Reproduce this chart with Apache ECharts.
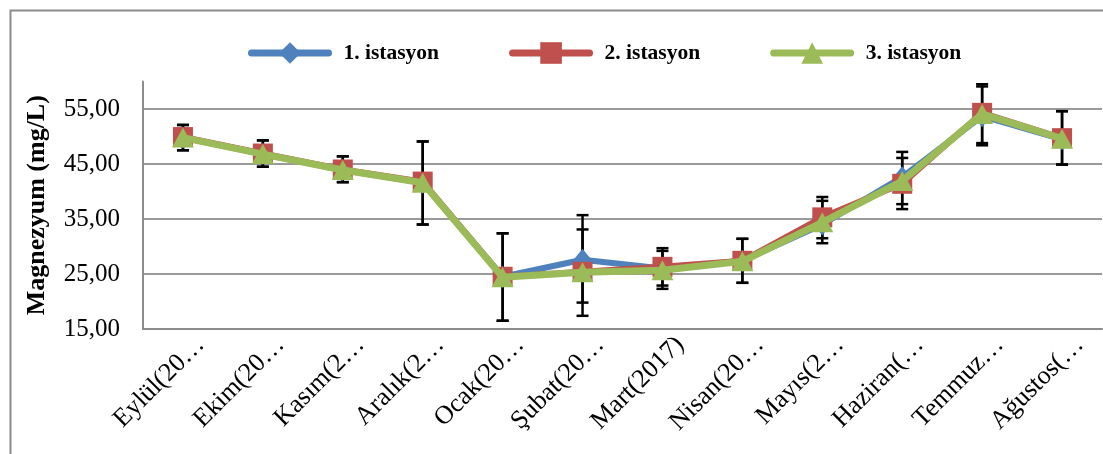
<!DOCTYPE html>
<html>
<head>
<meta charset="utf-8">
<script src="https://cdn.jsdelivr.net/npm/echarts@6/dist/echarts.min.js"></script>
<style>html,body{margin:0;padding:0;background:#fff;}#c{width:1103px;height:454px;}</style>
</head>
<body>
<div id="c"></div>
<script>
const categories = ['Eylül(20…', 'Ekim(20…', 'Kasım(2…', 'Aralık(2…', 'Ocak(20…', 'Şubat(20…', 'Mart(2017)', 'Nisan(20…', 'Mayıs(2…', 'Haziran(…', 'Temmuz…', 'Ağustos(…'];
const seriesNames = ['1. istasyon', '2. istasyon', '3. istasyon'];
const station1 = [49.8, 46.8, 43.9, 41.6, 24.5, 27.6, 26.0, 27.4, 34.0, 42.6, 53.7, 49.5];
const station2 = [49.9, 46.9, 44.0, 41.8, 24.5, 25.4, 26.3, 27.4, 35.3, 41.4, 54.3, 49.7];
const station3 = [49.8, 46.8, 43.9, 41.6, 24.4, 25.3, 25.7, 27.3, 34.4, 41.9, 54.1, 49.6];
const errLow1  = [47.5, 44.5, 41.7, 34.0, 16.5, 17.4, 22.3, 23.4, 30.6, 36.8, 48.4, 44.9];
const errHigh1 = [52.1, 49.3, 46.4, 49.1, 32.4, 35.7, 29.7, 31.4, 39.0, 47.2, 59.5, 54.6];
const errLow2  = [47.5, 44.5, 41.7, 34.0, 16.5, 19.8, 22.9, 23.4, 31.5, 37.7, 48.8, 44.9];
const errHigh2 = [52.1, 49.3, 46.4, 49.1, 32.4, 33.1, 29.2, 31.4, 38.3, 46.1, 59.1, 54.6];
const yTicks = {min: 15, max: 60, interval: 10};

const colors = ['#4F81BD', '#C0504D', '#9BBB59'];
const symbols = ['diamond', 'rect', 'triangle'];
const symbolSizes = [[18, 22], 20, [22, 20]];
const lineWidths = [6, 6, 7];
const font = 'Liberation Serif, Times New Roman, serif';

function errData(lo, hi) { return categories.map((c, i) => [i, lo[i], hi[i]]); }
function errRender(params, api) {
  const x = api.value(0);
  const lo = api.coord([x, api.value(1)]);
  const hi = api.coord([x, api.value(2)]);
  const cw = 6;
  const style = {stroke: '#000', lineWidth: 2.5};
  return {type: 'group', children: [
    {type: 'line', shape: {x1: lo[0], y1: lo[1], x2: hi[0], y2: hi[1]}, style: style},
    {type: 'line', shape: {x1: lo[0] - cw, y1: lo[1], x2: lo[0] + cw, y2: lo[1]}, style: style},
    {type: 'line', shape: {x1: hi[0] - cw, y1: hi[1], x2: hi[0] + cw, y2: hi[1]}, style: style}
  ]};
}

const values = [station1, station2, station3];
const lineSeries = values.map((v, k) => ({
  name: seriesNames[k], type: 'line', data: v, z: 3 + k,
  symbol: symbols[k], symbolSize: symbolSizes[k], showAllSymbol: true,
  lineStyle: {width: lineWidths[k], color: colors[k]}, itemStyle: {color: colors[k]},
  animation: false
}));

const chart = echarts.init(document.getElementById('c'));
chart.setOption({
  animation: false,
  graphic: [{type: 'rect', left: 8, top: 8, shape: {width: 1200, height: 500}, style: {fill: 'none', stroke: '#8c8c8c', lineWidth: 2}, z: 0, silent: true}],
  legend: {
    left: 243, top: 37, itemWidth: 77, itemHeight: 27, itemGap: 70,
    data: seriesNames,
    lineStyle: {width: 7, cap: 'round'},
    textStyle: {fontFamily: font, fontWeight: 'bold', fontSize: 21.5, color: '#000', padding: [0, 0, 0, 10]}
  },
  grid: {left: 143, right: 1, top: 81.5, bottom: 125, containLabel: false},
  xAxis: {
    type: 'category', data: categories, boundaryGap: true,
    axisLine: {lineStyle: {color: '#8c8c8c', width: 2}},
    axisTick: {show: false},
    axisLabel: {rotate: 45, interval: 0, margin: -6, verticalAlign: 'top', align: 'right', lineHeight: 50,
      fontFamily: font, fontSize: 26, color: '#000'}
  },
  yAxis: {
    type: 'value', min: yTicks.min, max: yTicks.max, interval: yTicks.interval,
    name: 'Magnezyum (mg/L)', nameLocation: 'middle', nameGap: 93,
    nameTextStyle: {fontFamily: font, fontWeight: 'bold', fontSize: 26, color: '#000'},
    axisLine: {show: true, lineStyle: {color: '#8c8c8c', width: 2}},
    axisTick: {show: false},
    axisLabel: {showMaxLabel: false, margin: 23, fontFamily: font, fontSize: 25, color: '#000',
      formatter: v => v.toFixed(2).replace('.', ',')},
    splitLine: {show: true, showMaxLine: false, lineStyle: {color: '#9a9a9a', width: 2}}
  },
  series: [
    {type: 'custom', name: 'err1', data: errData(errLow1, errHigh1), renderItem: errRender, z: 1, encode: {x: 0, y: [1, 2]}, silent: true},
    {type: 'custom', name: 'err2', data: errData(errLow2, errHigh2), renderItem: errRender, z: 1, encode: {x: 0, y: [1, 2]}, silent: true}
  ].concat(lineSeries)
});
</script>
</body>
</html>
